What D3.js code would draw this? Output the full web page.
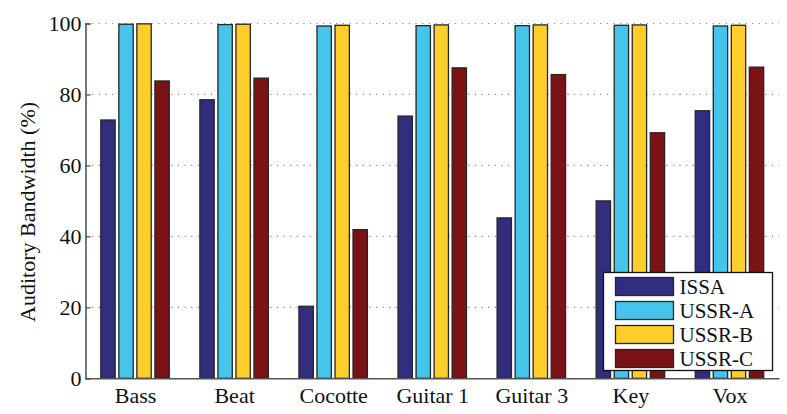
<!DOCTYPE html>
<html>
<head>
<meta charset="utf-8">
<script src="https://cdn.jsdelivr.net/npm/d3@7"></script>
<style>
  html, body { margin: 0; padding: 0; background: #fff; }
  svg { display: block; }
  text { font-family: "Liberation Serif", "Times New Roman", serif; fill: #111; }
</style>
</head>
<body>
<svg id="chart" width="787" height="414"></svg>
<script>
// Tracks and methods
const categories = ["Bass", "Beat", "Cocotte", "Guitar 1", "Guitar 3", "Key", "Vox"];
const seriesNames = ["ISSA", "USSR-A", "USSR-B", "USSR-C"];

// Auditory bandwidth (%) per method, one value per track
const issa  = [72.8, 78.5, 20.3, 73.9, 45.2, 50.0, 75.4];
const ussrA = [99.8, 99.7, 99.3, 99.4, 99.4, 99.5, 99.3];
const ussrB = [99.9, 99.8, 99.5, 99.6, 99.6, 99.6, 99.5];
const ussrC = [83.8, 84.6, 41.9, 87.5, 85.6, 69.2, 87.7];

const yTicks = [0, 20, 40, 60, 80, 100];

const seriesValues = [issa, ussrA, ussrB, ussrC];
const colors = ["#312e80", "#45c5ea", "#fece2b", "#7b1215"];

const svg = d3.select("#chart");
const m = { left: 85.5, right: 779, top: 23.5, bottom: 378.3 };
const FONT = "Liberation Serif, Times New Roman, serif";

// Group positions: categories sit at 1..7 with limits [0.5, 7.5]
const x = d3.scaleLinear().domain([0.5, categories.length + 0.5]).range([m.left, m.right]);
const y = d3.scaleLinear().domain([0, 100]).range([m.bottom, m.top]);

const unit = x(2) - x(1);
const barPitch = unit * 0.182;
const barW = unit * 0.145;

// Dotted horizontal grid
svg.append("g")
  .selectAll("line")
  .data(yTicks.filter(t => t > 0))
  .join("line")
  .attr("x1", m.left).attr("x2", m.right)
  .attr("y1", d => y(d)).attr("y2", d => y(d))
  .attr("stroke", "#8a8a8a")
  .attr("stroke-width", 1.2)
  .attr("stroke-dasharray", "1.2,5.4");

// Bars
const rows = [];
seriesValues.forEach((vals, s) => {
  vals.forEach((v, i) => rows.push({ s, i, v }));
});
svg.append("g")
  .selectAll("rect")
  .data(rows)
  .join("rect")
  .attr("x", d => x(d.i + 1) + (d.s - 1.5) * barPitch - barW / 2)
  .attr("width", barW)
  .attr("y", d => y(d.v))
  .attr("height", d => y(0) - y(d.v))
  .attr("fill", d => colors[d.s])
  .attr("stroke", "#262626")
  .attr("stroke-width", 1.3);

// Y axis (ticks pointing inward)
const yAxis = d3.axisLeft(y).tickValues(yTicks).tickSize(-5).tickPadding(4);
const gy = svg.append("g").attr("transform", `translate(${m.left},0)`).call(yAxis);
gy.attr("font-family", FONT).attr("font-size", 22);
gy.select(".domain").attr("stroke", "#555").attr("stroke-width", 1.6);
gy.selectAll(".tick line").attr("stroke", "#555").attr("stroke-width", 1.3);
gy.selectAll(".tick text").attr("fill", "#111");

// X axis
const xAxis = d3.axisBottom(x)
  .tickValues(d3.range(1, categories.length + 1))
  .tickFormat(d => categories[d - 1])
  .tickSize(0).tickPadding(9);
const gx = svg.append("g").attr("transform", `translate(0,${m.bottom})`).call(xAxis);
gx.attr("font-family", FONT).attr("font-size", 22);
gx.select(".domain").attr("stroke", "#555").attr("stroke-width", 1.6);
gx.selectAll(".tick text").attr("fill", "#111");

// Y axis title
svg.append("text")
  .attr("transform", `translate(35,${(m.top + m.bottom) / 2 + 11}) rotate(-90)`)
  .attr("text-anchor", "middle")
  .attr("font-size", 22)
  .text("Auditory Bandwidth (%)");

// Legend
const lg = svg.append("g").attr("transform", "translate(603.5,272.5)");
lg.append("rect")
  .attr("width", 169).attr("height", 98)
  .attr("fill", "#fff").attr("stroke", "#111").attr("stroke-width", 1.3);
seriesNames.forEach((name, k) => {
  const row = lg.append("g").attr("transform", `translate(12,${5 + k * 24})`);
  row.append("rect")
    .attr("width", 58).attr("height", 18)
    .attr("fill", colors[k]).attr("stroke", "#262626").attr("stroke-width", 1.3);
  row.append("text")
    .attr("x", 64).attr("y", 16)
    .attr("font-size", 21)
    .text(name);
});
</script>
</body>
</html>
